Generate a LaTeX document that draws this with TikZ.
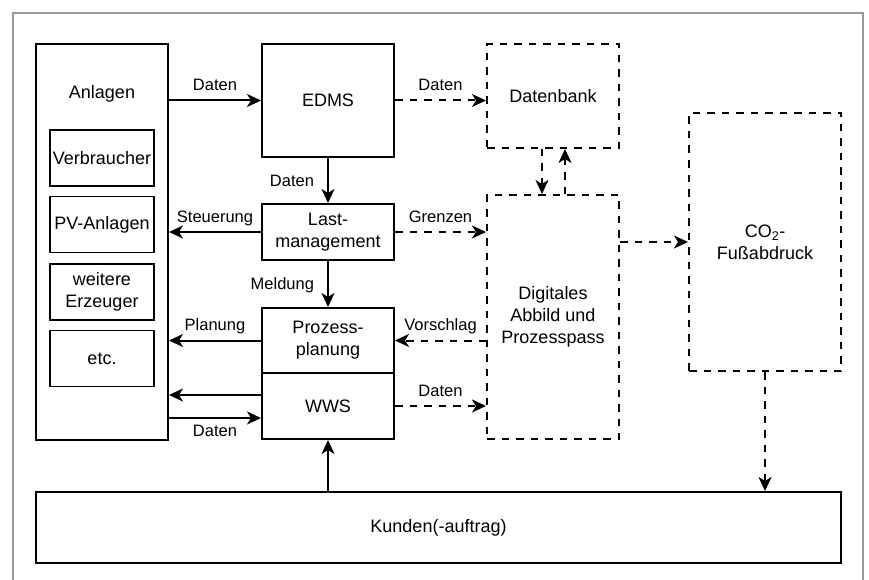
\documentclass[tikz,border=0pt]{standalone}
\usepackage{fontspec}
\setmainfont{Liberation Sans}
\usepackage{tikz}
\usetikzlibrary{calc}
\usetikzlibrary{arrows.meta}
\usetikzlibrary{positioning}

\newcommand{\blocktext}{\fontsize{18}{22}\selectfont}
\newcommand{\tagtext}{\fontsize{16.5}{19}\selectfont}

\tikzset{
    block/.style={draw, line width=2pt, inner sep=0pt, align=center, font=\blocktext},
    dashblock/.style={block, dash pattern=on 7.5pt off 7pt},
    part/.style={draw, line width=1.5pt, inner sep=0pt, align=center, font=\blocktext,
        minimum width=104pt, minimum height=56pt},
    flow/.style={-{Stealth[length=14pt,width=13pt,inset=4pt]}, line width=2pt},
    dashflow/.style={flow, dash pattern=on 7.5pt off 7pt},
    tag/.style={font=\tagtext, inner sep=2pt, text depth=0pt},
}

\begin{document}
\begin{tikzpicture}[x=1pt, y=-1pt]
    \useasboundingbox (0,0) rectangle (869,580);
    % frame
    \draw[black!40, line width=1.2pt] (13,580) |- (863,13) -- (863,580);

    % Anlagen
    \node[block, minimum width=132pt, minimum height=396pt] (anlagen) at (102,242) {};
    \node[font=\blocktext, anchor=base] (anlagentitel) at (102,99) {Anlagen};
    \node[part] (verbraucher) at (102,158) {Verbraucher};
    \node[part, below=9pt of verbraucher] (pv) {PV-Anlagen};
    \node[part, below=10pt of pv] (erzeuger) {weitere\\Erzeuger};
    \node[part, below=9pt of erzeuger] (etc) {etc.};

    % middle column
    \node[block, minimum width=132pt, minimum height=113pt] (edms) at (328,100.5) {EDMS};
    \node[block, minimum width=132pt, minimum height=56pt] (last) at (328,232) {Last-\\management};
    \node[block, minimum width=132pt, minimum height=65pt] (prozess) at (328,340.5) {Prozess-\\planung};
    \node[block, minimum width=132pt, minimum height=66pt] (wws) at (328,406) {WWS};

    % dashed blocks
    \node[dashblock, minimum width=132pt, minimum height=104pt] (db) at (553,96) {Datenbank};
    \node[dashblock, minimum width=132pt, minimum height=244pt] (digital) at (553,317) {Digitales\\Abbild und\\Prozesspass};
    \node[dashblock, minimum width=152pt, minimum height=258pt] (co2) at (765,242) {CO\textsubscript{2}-\\Fußabdruck};

    \node[block, minimum width=805pt, minimum height=71pt] (kunden) at (438.5,527.5) {Kunden(-auftrag)};

    % connectors
    \draw[flow] (anlagen.east |- edms.west) -- node[tag, above=7pt] {Daten} (edms.west);
    \draw[dashflow] (edms.east) -- node[tag, above=7pt] {Daten} (db.west |- edms.east);
    \draw[flow] (edms.south) -- node[tag, left=11pt] {Daten} (last.north);
    \draw[flow] (last.west) -- node[tag, above=7pt] {Steuerung} (anlagen.east |- last.west);
    \draw[dashflow] (last.east) -- node[tag, above=7pt] {Grenzen} (digital.west |- last.east);
    \draw[flow] (last.south) -- node[tag, left=11pt] {Meldung} (prozess.north);
    \draw[flow] (prozess.west) -- node[tag, above=7pt] {Planung} (anlagen.east |- prozess.west);
    \draw[dashflow] (digital.west |- prozess.east) -- node[tag, above=7pt] {Vorschlag} (prozess.east);

    \coordinate (wwsout) at ($(wws.west)+(0,-11)$);
    \coordinate (wwsin) at ($(wws.west)+(0,12)$);
    \draw[flow] (wwsout) -- (anlagen.east |- wwsout);
    \draw[flow] (anlagen.east |- wwsin) -- node[tag, below=4pt] {Daten} (wwsin);
    \draw[dashflow] (wws.east) -- node[tag, above=7pt] {Daten} (digital.west |- wws.east);

    \coordinate (dbdown) at ($(db.south)+(-11,0)$);
    \coordinate (dbup) at ($(db.south)+(12,0)$);
    \draw[dashflow] (dbdown) -- (dbdown |- digital.north);
    \draw[dashflow] (dbup |- digital.north) -- (dbup);

    \draw[dashflow] (digital.east |- co2.west) -- (co2.west);
    \draw[dashflow] (co2.south) -- (co2.south |- kunden.north);
    \draw[flow] (kunden.north -| wws.south) -- (wws.south);
\end{tikzpicture}
\end{document}
